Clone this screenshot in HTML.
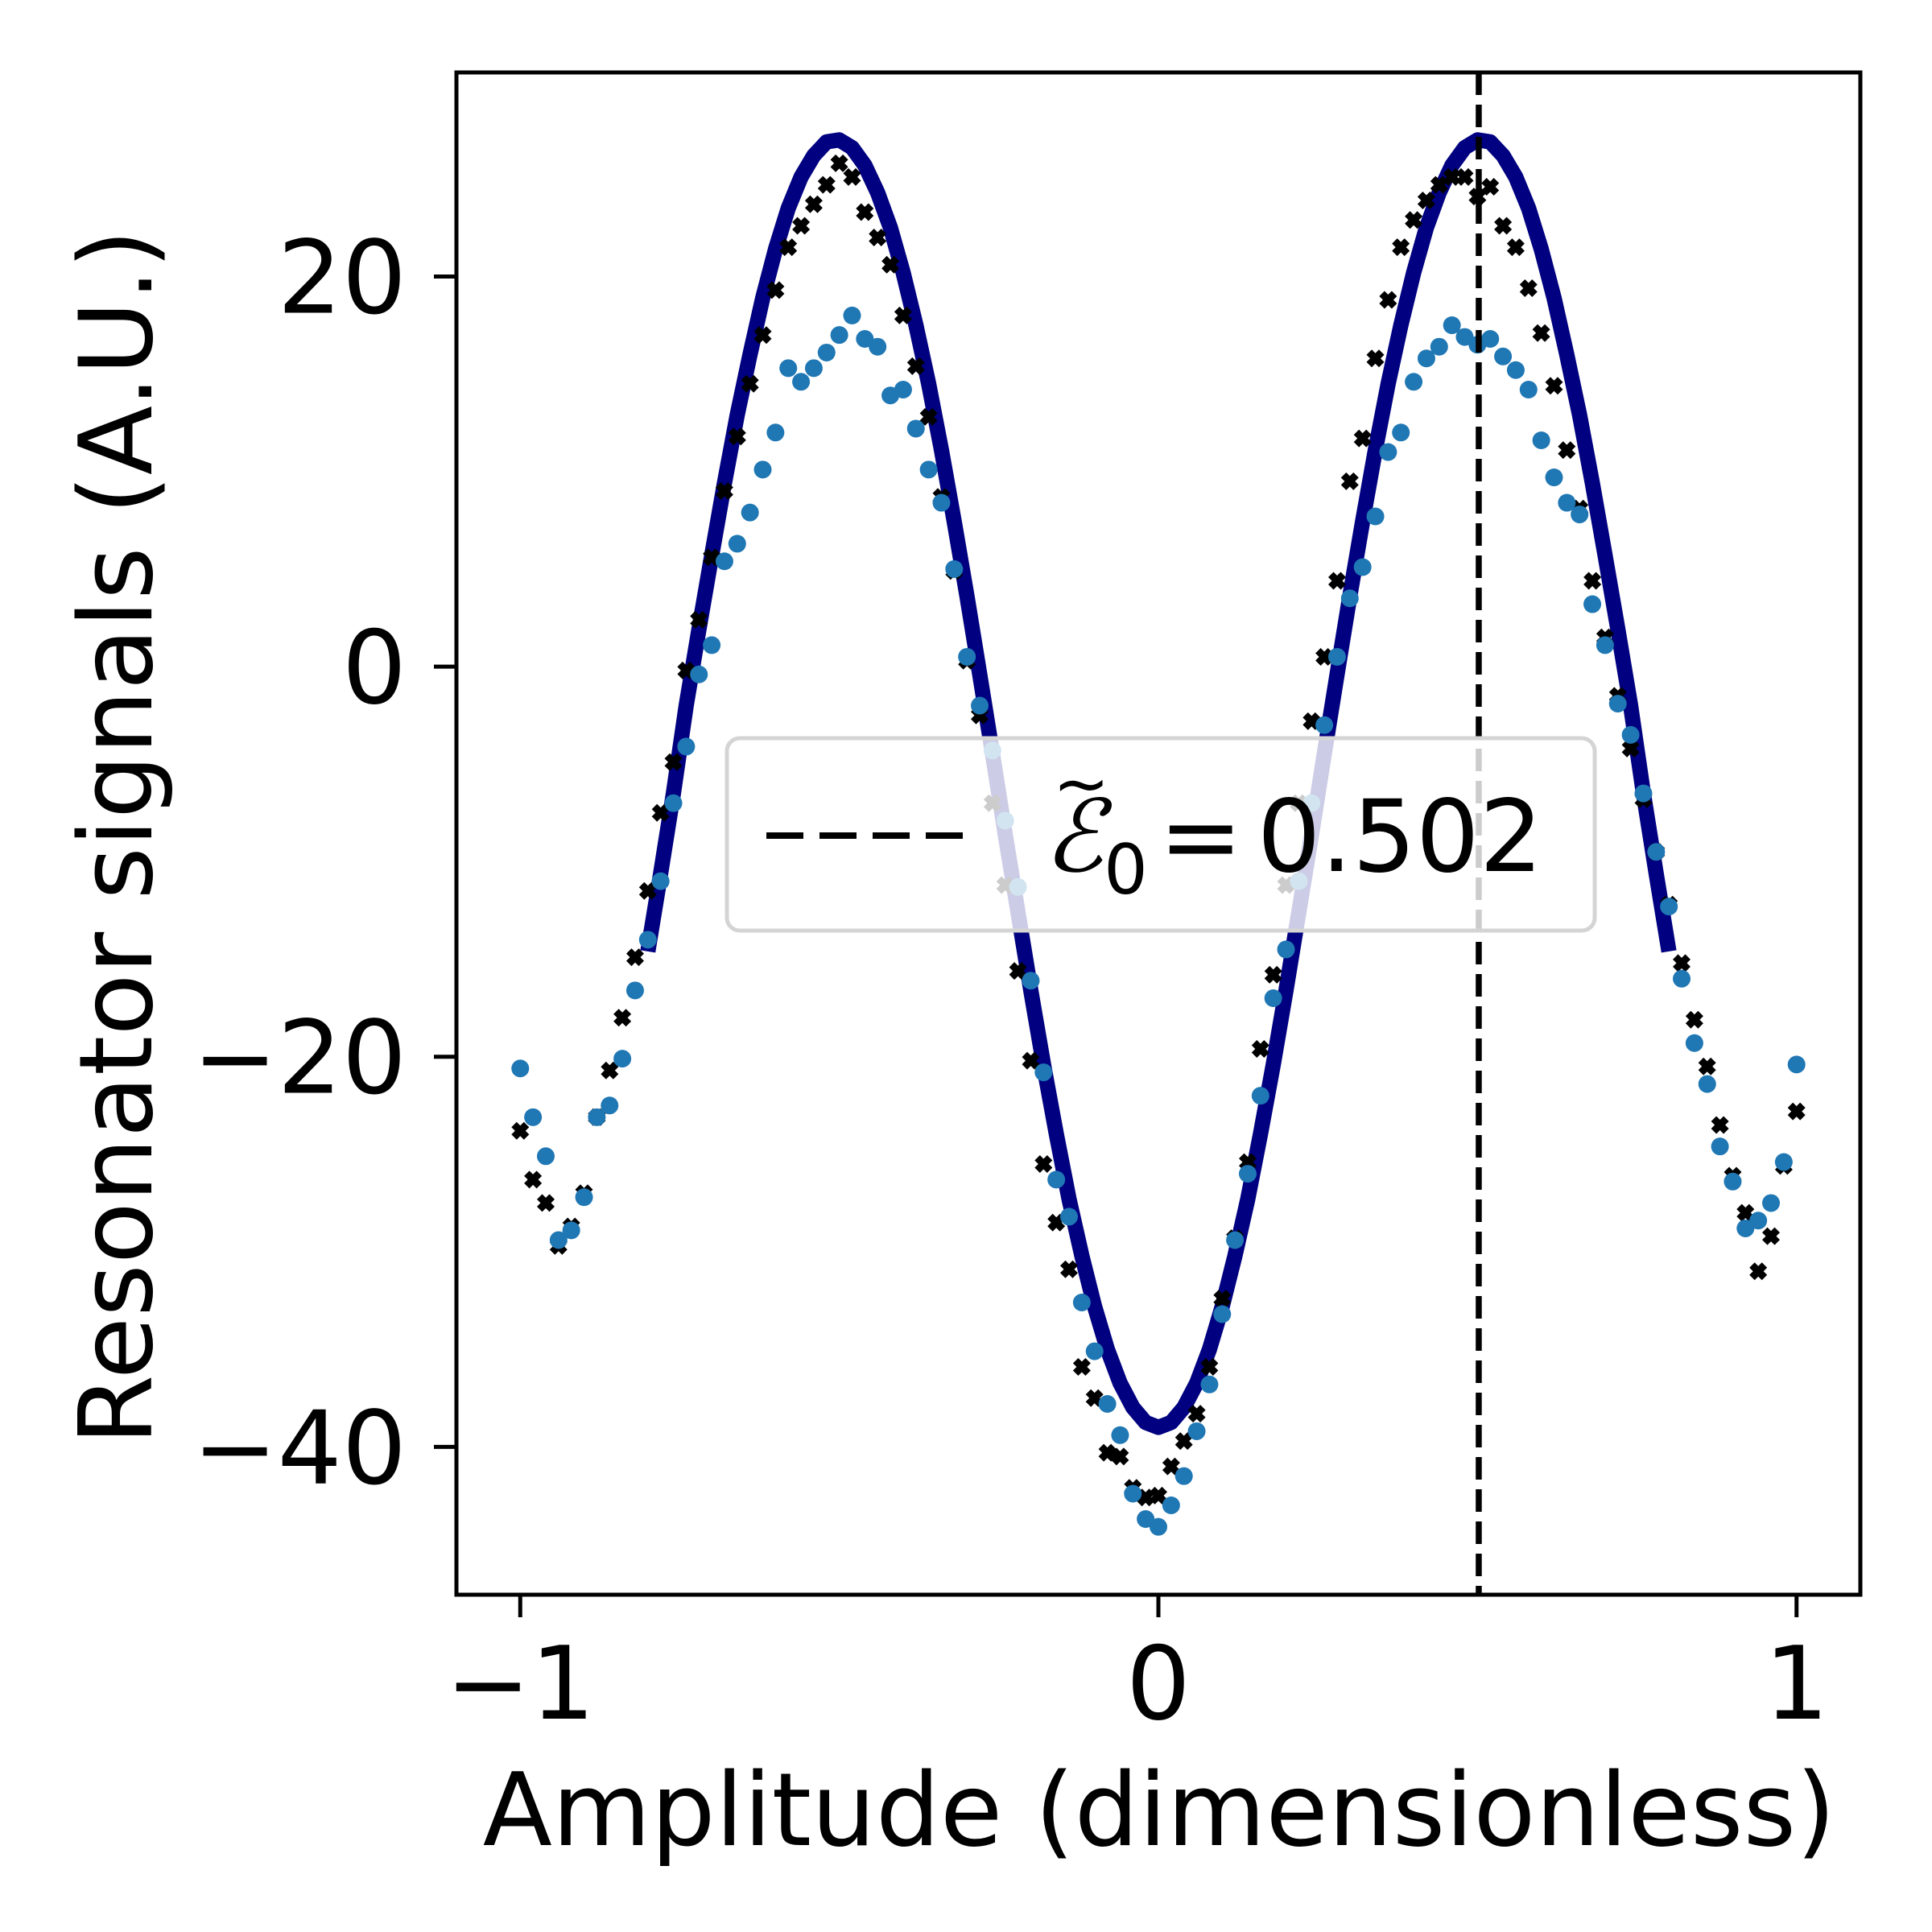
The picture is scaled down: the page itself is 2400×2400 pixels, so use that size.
<!DOCTYPE html>
<html><head><meta charset="utf-8"><style>
html,body{margin:0;padding:0;background:#fff}
svg{display:block}
text{font-family:"DejaVu Sans","Liberation Sans",sans-serif;fill:#000}
</style></head><body>
<svg id="chart" width="2400" height="2400" viewBox="0 0 2400 2400" xmlns="http://www.w3.org/2000/svg">
<rect width="2400" height="2400" fill="#fff"/>
<defs><clipPath id="plotclip"><rect x="567" y="90" width="1744" height="1891"/></clipPath></defs>
<g id="plot" clip-path="url(#plotclip)"></g>
<g id="axes"></g>
</svg>
<script>
const xTicks = [-1, 0, 1];
const xTickLabels = ["\u22121", "0", "1"];
const yTicks = [20, 0, -20, -40];
const yTickLabels = ["20", "0", "\u221220", "\u221240"];
const dataStart = -1, dataStep = 0.02;
const blackSeries = [-23.8,-26.3,-27.5,-29.7,-28.7,-27.0,-23.1,-20.7,-18.0,-14.9,-11.5,-7.5,-4.9,-0.2,2.4,5.6,9.0,11.8,14.5,17.0,19.3,21.5,22.6,23.7,24.7,25.8,25.1,23.3,22.0,20.6,18.0,15.4,12.8,8.7,4.9,0.3,-2.5,-7.0,-11.2,-15.6,-20.2,-25.5,-28.5,-30.9,-35.9,-37.5,-40.3,-40.5,-42.1,-42.6,-42.5,-41.0,-39.7,-38.3,-35.9,-32.4,-29.3,-25.4,-19.6,-15.8,-11.2,-7.0,-2.8,0.5,4.4,9.5,11.7,15.8,18.8,21.5,22.9,23.9,24.7,25.1,25.1,24.1,24.6,22.6,21.5,19.4,17.1,14.4,11.1,8.1,4.4,1.5,-1.5,-4.2,-6.8,-9.5,-12.2,-15.2,-18.1,-20.5,-23.5,-26.1,-28.0,-31.0,-29.2,-25.6,-22.8];
const blueSeries = [-20.6,-23.1,-25.1,-29.4,-28.9,-27.2,-23.1,-22.5,-20.1,-16.6,-14.0,-11.0,-7.0,-4.1,-0.4,1.1,5.4,6.3,7.9,10.1,12.0,15.3,14.6,15.3,16.1,17.0,18.0,16.8,16.4,13.9,14.2,12.2,10.1,8.4,5.0,0.5,-2.0,-4.3,-7.9,-11.3,-16.1,-20.8,-26.3,-28.2,-32.6,-35.1,-37.8,-39.4,-42.4,-43.7,-44.1,-43.0,-41.5,-39.2,-36.8,-33.2,-29.4,-26.0,-22.0,-17.0,-14.5,-11.0,-7.0,-3.0,0.5,3.5,5.1,7.7,11.0,12.0,14.6,15.8,16.4,17.5,16.9,16.5,16.8,15.9,15.2,14.2,11.6,9.7,8.4,7.8,3.2,1.1,-1.9,-3.5,-6.5,-9.5,-12.3,-16.0,-19.3,-21.4,-24.6,-26.4,-28.8,-28.4,-27.5,-25.4,-20.4];
const fitStart = -0.80, fitStep = 0.02;
const fitSeries = [-14.6,-10.6,-6.5,-2.0,1.9,5.7,9.4,12.9,16.0,18.9,21.4,23.5,25.1,26.2,26.9,27.0,26.6,25.7,24.3,22.5,20.2,17.5,14.5,11.1,7.45,3.61,-0.39,-4.46,-8.6,-12.6,-16.6,-20.4,-23.96,-27.3,-30.2,-32.8,-35.0,-36.73,-37.98,-38.75,-39,-38.75,-37.98,-36.73,-35.0,-32.8,-30.2,-27.3,-23.96,-20.4,-16.6,-12.6,-8.6,-4.46,-0.39,3.61,7.45,11.1,14.5,17.5,20.2,22.5,24.3,25.7,26.6,27.0,26.9,26.2,25.1,23.5,21.4,18.9,16.0,12.9,9.4,5.7,1.9,-2.0,-6.5,-10.6,-14.6];
const threshold = 0.502;

const NS = "http://www.w3.org/2000/svg";
const X0 = 567, X1 = 2311, Y0 = 90, Y1 = 1981;
const xMin = -1.1, xMax = 1.1, yMin = -47.58, yMax = 30.46;
function sx(v){ return X0 + (v - xMin) / (xMax - xMin) * (X1 - X0); }
function sy(v){ return Y1 - (v - yMin) / (yMax - yMin) * (Y1 - Y0); }
function mk(tag, attrs, parent){ const e = document.createElementNS(NS, tag); for (const k in attrs) e.setAttribute(k, attrs[k]); parent.appendChild(e); return e; }
const plot = document.getElementById('plot');
const axes = document.getElementById('axes');

let d = "";
fitSeries.forEach((v, i) => { d += (i ? "L" : "M") + sx(fitStart + i * fitStep).toFixed(1) + " " + sy(v).toFixed(1); });
const fit = mk('path', {d: d, fill: 'none', stroke: '#000080', 'stroke-width': 19, 'stroke-linejoin': 'round'}, plot);



blackSeries.forEach((v, i) => {
  const cx = sx(dataStart + i * dataStep), cy = sy(v), r = 11, w = 6.5;
  const pts = [[0,-w],[r-w,-r],[r,-r+w],[w,0],[r,r-w],[r-w,r],[0,w],[-r+w,r],[-r,r-w],[-w,0],[-r,-r+w],[-r+w,-r]];
  const p = mk('polygon', {points: pts.map(q => (cx+q[0]).toFixed(1)+","+(cy+q[1]).toFixed(1)).join(" "), fill: '#000'}, plot);
  
  
});
blueSeries.forEach((v, i) => {
  const c = mk('circle', {cx: sx(dataStart + i * dataStep), cy: sy(v), r: 11, fill: '#1f77b4'}, plot);
  
  
});
const tl = mk('line', {x1: sx(threshold), x2: sx(threshold), y1: Y0, y2: Y1, stroke: '#000', 'stroke-width': 7.5, 'stroke-dasharray': '28 12'}, plot);



const lg = mk('g', {}, plot);


mk('rect', {x: 903, y: 917, width: 1078, height: 239, rx: 16, fill: 'rgba(255,255,255,0.8)', stroke: '#d4d4d4', 'stroke-width': 5}, lg);
const ll = mk('line', {x1: 952, x2: 1198, y1: 1038, y2: 1038, stroke: '#000', 'stroke-width': 8, 'stroke-dasharray': '46 20'}, lg);


const lt = mk('text', {x: 1296, y: 1082, 'font-size': 124}, lg);


lt.innerHTML = '<tspan font-family="DejaVu Serif, Liberation Serif, serif" font-style="italic">\u2130</tspan><tspan font-size="86" dy="28">0</tspan><tspan dy="-28" dx="14">=</tspan><tspan dx="18">0.502</tspan>';
mk('text', {x: 1308, y: 1002, 'font-size': 84}, lg).textContent = "~";

const sp = mk('rect', {x: X0, y: Y0, width: X1 - X0, height: Y1 - Y0, fill: 'none', stroke: '#000', 'stroke-width': 5}, axes);



xTicks.forEach((v, i) => {
  const x = sx(v);
  const t = mk('line', {x1: x, x2: x, y1: Y1, y2: Y1 + 28, stroke: '#000', 'stroke-width': 5}, axes);
  
  
  const l = mk('text', {x: x, y: 2135, 'font-size': 126, 'text-anchor': 'middle'}, axes);
  l.textContent = xTickLabels[i];
  
  
});
yTicks.forEach((v, i) => {
  const y = sy(v);
  const t = mk('line', {x1: X0 - 28, x2: X0, y1: y, y2: y, stroke: '#000', 'stroke-width': 5}, axes);
  
  
  const l = mk('text', {x: 505, y: y + 45, 'font-size': 126, 'text-anchor': 'end'}, axes);
  l.textContent = yTickLabels[i];
  
  
});
const xl = mk('text', {x: 1440, y: 2292, 'font-size': 126, 'text-anchor': 'middle'}, axes);
xl.textContent = "Amplitude (dimensionless)";


const yl = mk('text', {x: 0, y: 0, 'font-size': 126, 'text-anchor': 'middle', transform: 'translate(188,1040) rotate(-90)'}, axes);
yl.textContent = "Resonator signals (A.U.)";


</script>
</body></html>
